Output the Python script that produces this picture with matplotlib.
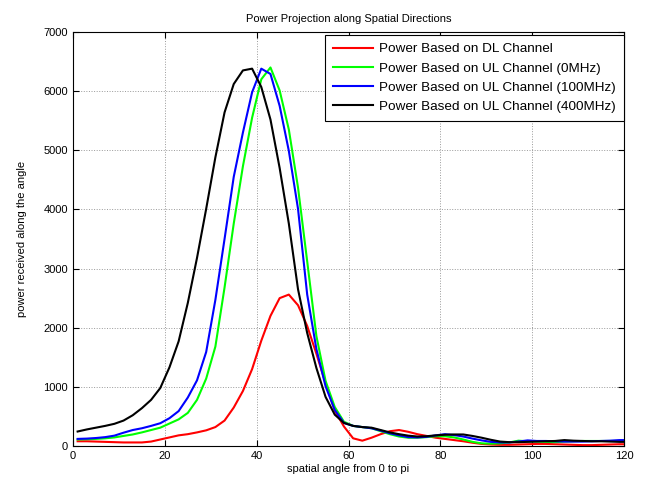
import matplotlib
matplotlib.use("Agg")
import matplotlib.pyplot as plt

plt.rcParams['font.family'] = ['Liberation Sans', 'DejaVu Sans']

# spatial angle samples (1..119 step 2, then 120)
angle = list(range(1, 120, 2)) + [120]

# Power Based on DL Channel
dl = [80, 80, 75, 70, 65, 60, 60, 60, 75, 110,
      145, 180, 200, 230, 265, 320, 430, 650, 930, 1300,
      1780, 2200, 2500, 2560, 2380, 2030, 1560, 1060, 600, 330,
      130, 90, 140, 200, 250, 270, 240, 200, 170, 140,
      120, 100, 80, 55, 35, 25, 20, 20, 25, 30,
      35, 35, 30, 25, 20, 15, 15, 20, 25, 30, 30]

# Power Based on UL Channel (0MHz)
ul0 = [110, 115, 120, 130, 145, 170, 195, 230, 270, 310,
       380, 450, 560, 780, 1140, 1680, 2680, 3760, 4730, 5550,
       6200, 6400, 6010, 5350, 4370, 3120, 1860, 1100, 660, 410,
       340, 320, 300, 250, 200, 160, 140, 140, 150, 165,
       165, 145, 110, 70, 45, 40, 45, 60, 90, 80,
       75, 70, 65, 75, 80, 85, 85, 85, 85, 85, 85]

# Power Based on UL Channel (100MHz)
ul100 = [120, 125, 135, 150, 175, 225, 270, 300, 340, 385,
         470, 590, 820, 1110, 1590, 2470, 3500, 4550, 5300, 5980,
         6380, 6290, 5750, 4990, 4010, 2560, 1640, 1010, 610, 390,
         340, 320, 300, 260, 215, 180, 150, 145, 155, 180,
         200, 185, 160, 125, 95, 70, 60, 60, 75, 95,
         85, 85, 80, 75, 75, 75, 80, 85, 90, 100, 100]

# Power Based on UL Channel (400MHz)
ul400 = [245, 280, 310, 340, 375, 430, 520, 640, 780, 980,
         1330, 1770, 2420, 3180, 4010, 4880, 5640, 6120, 6350, 6380,
         6070, 5520, 4700, 3760, 2650, 1910, 1320, 830, 530, 390,
         340, 320, 310, 270, 230, 200, 175, 160, 165, 180,
         190, 195, 195, 170, 140, 105, 75, 65, 65, 70,
         75, 80, 85, 100, 90, 85, 80, 80, 75, 70, 70]

fig = plt.figure(figsize=(6.48, 4.86), dpi=100)
ax = fig.add_axes([0.1127, 0.0823, 0.8503, 0.8519])

ax.plot(angle, dl, color=(1, 0, 0), lw=1.5, label="Power Based on DL Channel")
ax.plot(angle, ul0, color=(0, 1, 0), lw=1.5, label="Power Based on UL Channel (0MHz)")
ax.plot(angle, ul100, color=(0, 0, 1), lw=1.5, label="Power Based on UL Channel (100MHz)")
ax.plot(angle, ul400, color=(0, 0, 0), lw=1.5, label="Power Based on UL Channel (400MHz)")

ax.set_xlim(0, 120)
ax.set_ylim(0, 7000)
ax.set_xticks(range(0, 121, 20))
ax.set_yticks(range(0, 7001, 1000))
ax.grid(True, linestyle=':', color='#999999', lw=0.7)
ax.tick_params(direction='in', labelsize=8, top=True, right=True, length=4)
for s in ax.spines.values():
    s.set_linewidth(0.8)

ax.set_title("Power Projection along Spatial Directions", fontsize=8, pad=7)
ax.set_xlabel("spatial angle from 0 to pi", fontsize=8, labelpad=2)
ax.set_ylabel("power received along the angle", fontsize=8, labelpad=12)

leg = ax.legend(loc='upper right', bbox_to_anchor=(1.0, 0.993), fontsize=9.7,
                handlelength=3.0, handletextpad=0.45, borderaxespad=0,
                borderpad=0.6, labelspacing=0.5,
                fancybox=False, framealpha=1, edgecolor='black')
leg.get_frame().set_linewidth(0.8)

fig.savefig("out.png", dpi=100)
